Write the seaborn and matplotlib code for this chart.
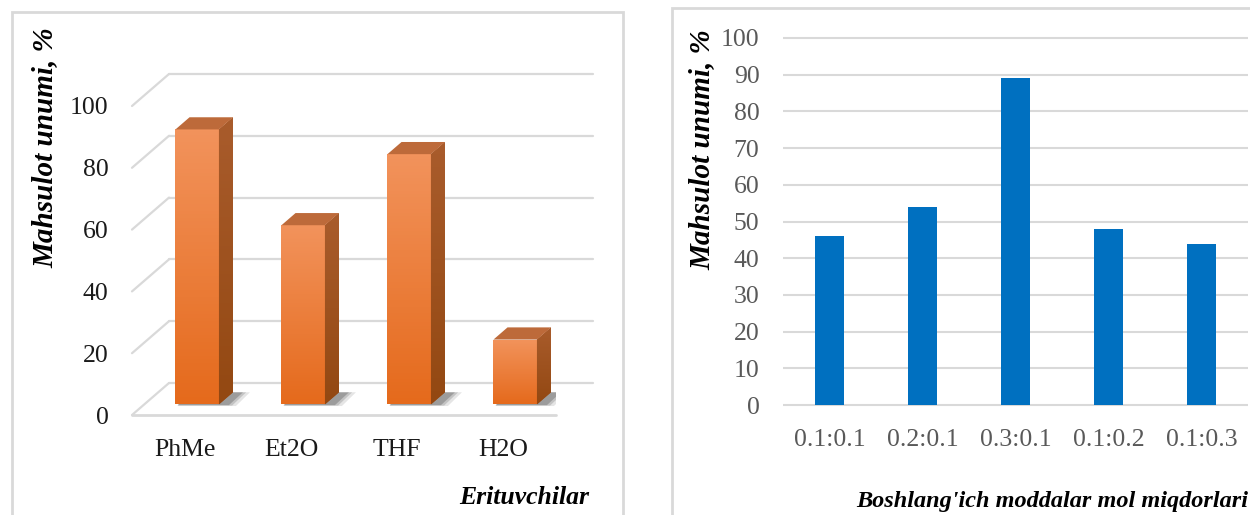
import numpy as np
import matplotlib
matplotlib.use('Agg')
import matplotlib.pyplot as plt
from matplotlib.colors import to_rgb
from matplotlib.patches import Polygon, Rectangle
import seaborn as sns

# data
solvents = ['PhMe', 'Et2O', 'THF', 'H2O']
solvent_yield = [89, 58, 81, 21]
ratios = ['0.1:0.1', '0.2:0.1', '0.3:0.1', '0.1:0.2', '0.1:0.3']
ratio_yield = [46, 54, 89, 48, 44]
left_ticks = [0, 20, 40, 60, 80, 100]
right_ticks = list(range(0, 101, 10))

sns.set_style('white')
plt.rcParams['font.family'] = ['Liberation Serif', 'DejaVu Serif']

W, H = 1250, 515
fig = plt.figure(figsize=(W / 100, H / 100), dpi=100)


def fx(px):
    return px / W


def fy(py):
    return 1 - py / H


def gradient(top, bottom, n=80):
    t = np.linspace(0, 1, n)[:, None, None]
    return np.array(to_rgb(bottom)) * (1 - t) + np.array(to_rgb(top)) * t


GRID = '#D9D9D9'

# panel frames
fig.patches.append(Rectangle((fx(12), -0.1), fx(623) - fx(12), fy(12) + 0.1,
                             transform=fig.transFigure, fill=False,
                             edgecolor=GRID, lw=2))
fig.patches.append(Rectangle((fx(672), -0.1), 0.5, fy(8) + 0.1,
                             transform=fig.transFigure, fill=False,
                             edgecolor=GRID, lw=2))

# ---------------- left: 3D-like column chart ----------------
ax1 = fig.add_axes([fx(132), fy(415), fx(556) - fx(132), fy(106) - fy(415)])
sns.barplot(x=solvents, y=solvent_yield, color='#F07F2C', width=0.41,
            saturation=1, ax=ax1, zorder=3)
ax1.set_xlim(-0.5, len(solvents) - 0.5)
ax1.set_ylim(0, 100)

# pixel -> data conversion for the depth offsets
px_x = (fx(556) - fx(132)) * W / len(solvents)
px_y = (fy(106) - fy(415)) * H / 100
DX, DY = 37 / px_x, 32 / px_y
f0, f1 = 0.33, 0.71

# back wall and floor
x_left, x_right = -0.5, len(solvents) - 0.5
for v in left_ticks:
    ax1.plot([x_left + DX, x_right + DX], [v + DY, v + DY], color=GRID,
             lw=1.6, clip_on=False, zorder=1)
    ax1.plot([x_left, x_left + DX], [v, v + DY], color=GRID, lw=1.6,
             clip_on=False, zorder=1)
ax1.plot([x_left, x_right], [0, 0], color=GRID, lw=2, clip_on=False, zorder=1)

for p in list(ax1.patches):
    x, w, h = p.get_x() + f0 * DX, p.get_width(), p.get_height()
    y = f0 * DY
    p.set_x(x)
    p.set_y(y)
    p.set_edgecolor('none')
    dx, dy = (f1 - f0) * DX, (f1 - f0) * DY
    # soft shadow on the floor
    for k, a in [(1.0, 0.12), (0.7, 0.18), (0.45, 0.25)]:
        sh = Polygon([(x + 0.02, y - 0.05 * DY * k),
                      (x + w + 0.04 + 0.12 * k, y - 0.05 * DY * k),
                      (x + w + dx + 0.04 + 0.12 * k, y + dy),
                      (x + dx, y + dy)], closed=True, facecolor='#2b2b2b',
                     alpha=a, edgecolor='none', zorder=2)
        ax1.add_patch(sh)
    # front gradient
    im = ax1.imshow(gradient('#F2935C', '#E56A1C'), extent=[x, x + w, y, y + h],
                    origin='lower', aspect='auto', zorder=3.1)
    im.set_clip_path(p)
    # side face
    side = Polygon([(x + w, y), (x + w + dx, y + dy), (x + w + dx, y + h + dy),
                    (x + w, y + h)], closed=True, facecolor='#A0531F',
                   edgecolor='none', zorder=3.2)
    ax1.add_patch(side)
    ims = ax1.imshow(gradient('#A95C2C', '#934812'),
                     extent=[x + w, x + w + dx, y, y + h + dy],
                     origin='lower', aspect='auto', zorder=3.3)
    ims.set_clip_path(side)
    # top face
    top = Polygon([(x, y + h), (x + dx, y + h + dy), (x + w + dx, y + h + dy),
                   (x + w, y + h)], closed=True, facecolor='#BD6A3A',
                  edgecolor='none', zorder=3.4)
    ax1.add_patch(top)

ax1.set_xlim(-0.5, len(solvents) - 0.5)
ax1.set_ylim(0, 100)
ax1.set_yticks(left_ticks)
ax1.tick_params(axis='both', length=0, labelsize=18.5, colors='#1a1a1a')
ax1.tick_params(axis='y', pad=17)
ax1.tick_params(axis='x', pad=17)
ax1.set_xlabel('')
ax1.set_ylabel('')
sns.despine(ax=ax1, left=True, bottom=True)
ax1.patch.set_alpha(0)

fig.text(fx(45), fy(148), 'Mahsulot unumi, %', rotation=90, ha='center',
         va='center', fontsize=21, fontweight='bold', fontstyle='italic',
         color='black')
fig.text(fx(589), fy(498), 'Erituvchilar', ha='right', va='center',
         fontsize=18.5, fontweight='bold', fontstyle='italic', color='black')

# ---------------- right: flat column chart ----------------
ax2 = fig.add_axes([fx(783), fy(405), fx(1248) - fx(783), fy(38) - fy(405)])
sns.barplot(x=ratios, y=ratio_yield, color='#0070C0', width=0.31,
            saturation=1, ax=ax2, zorder=3)
ax2.set_xlim(-0.5, len(ratios) - 0.5)
ax2.set_ylim(0, 100)
ax2.hlines(right_ticks, -0.5, len(ratios) - 0.5, color=GRID, lw=1.5,
           zorder=1, clip_on=False)
for p in ax2.patches:
    p.set_edgecolor('none')
ax2.set_yticks(right_ticks)
ax2.tick_params(axis='both', length=0, labelsize=18.5, colors='#595959')
ax2.tick_params(axis='y', pad=17)
ax2.tick_params(axis='x', pad=17)
ax2.set_xlabel('')
ax2.set_ylabel('')
sns.despine(ax=ax2, left=True, bottom=True)
ax2.patch.set_alpha(0)

fig.text(fx(702), fy(150), 'Mahsulot unumi, %', rotation=90, ha='center',
         va='center', fontsize=21, fontweight='bold', fontstyle='italic',
         color='black')
fig.text(fx(1248), fy(502), "Boshlang'ich moddalar mol miqdorlari", ha='right',
         va='center', fontsize=17.5, fontweight='bold', fontstyle='italic',
         color='black')

fig.savefig('out.png', dpi=100, facecolor='white')
